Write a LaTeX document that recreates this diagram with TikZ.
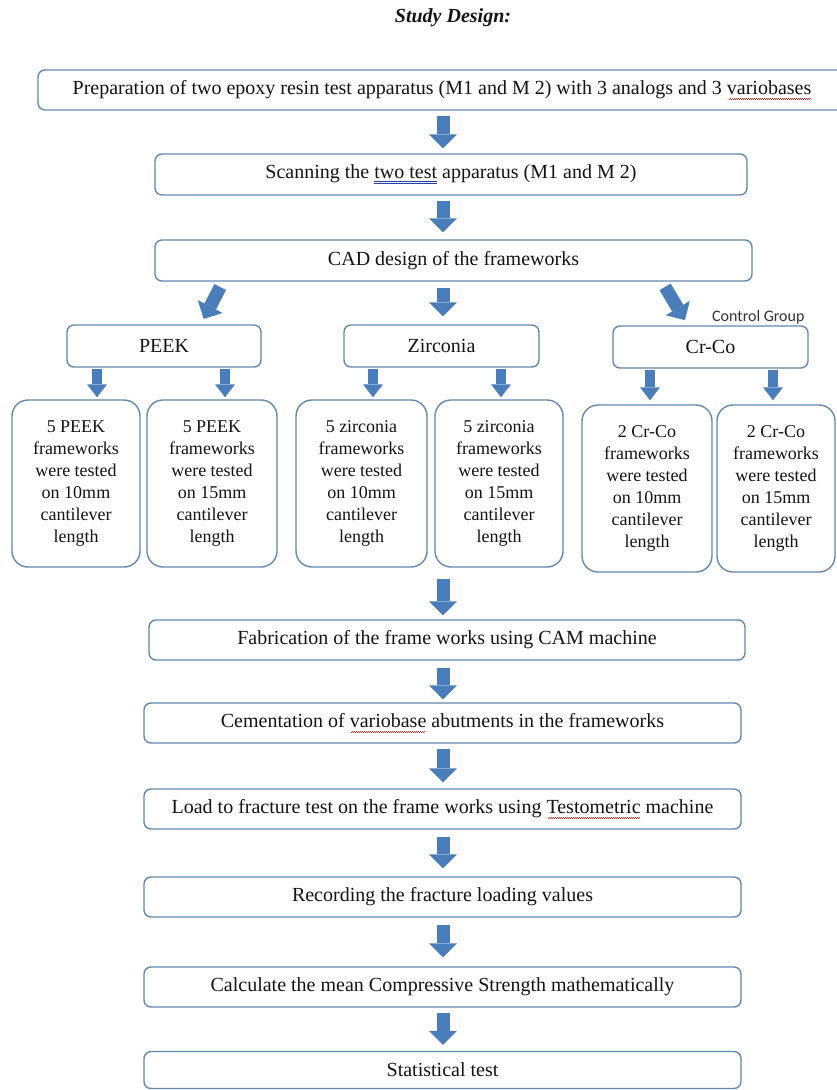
\documentclass[tikz,border=0pt]{standalone}
\usepackage{fontspec}
\setmainfont{Liberation Serif}
\newfontfamily\carl{Carlito}
\usetikzlibrary{arrows.meta}
\definecolor{boxc}{RGB}{100,136,176}
\definecolor{arrc}{RGB}{74,126,187}
\definecolor{wavec}{RGB}{220,30,30}
\definecolor{gramc}{RGB}{40,60,170}
\newsavebox\wbox
\newcommand\redwave[1]{\leavevmode\sbox\wbox{#1}\rlap{\usebox\wbox}{\color{wavec}\leaders\hbox{\rule[-5.2pt]{1pt}{0.9pt}\rule[-4pt]{1pt}{0.9pt}}\hskip\wd\wbox}}
\newcommand\bluuline[1]{\leavevmode\sbox\wbox{#1}\rlap{\usebox\wbox}{\color{gramc}\rlap{\rule[-3pt]{\wd\wbox}{0.6pt}}\rule[-5pt]{\wd\wbox}{0.6pt}}}
\begin{document}
\begin{tikzpicture}[x=1pt,y=-1pt,
  box/.style={draw=boxc, line width=1.4pt, rounded corners=7pt, fill=white, inner sep=0pt,
    text=black!92, font=\rmfamily\fontsize{20}{24}\selectfont},
  tall/.style={draw=boxc, line width=1.4pt, rounded corners=16pt, fill=white, inner sep=0pt,
    text=black!92, align=center, font=\rmfamily\fontsize{18}{22}\selectfont, minimum height=167pt},
  bigarr/.style={draw=arrc, line width=13pt, -{Triangle[width=28pt,length=14pt,line width=0pt]}},
  smallarr/.style={draw=arrc, line width=10pt, -{Triangle[width=20pt,length=13pt,line width=0pt]}}
]
\useasboundingbox[fill=white] (0,0) rectangle (836,1090);

\node[font=\rmfamily\bfseries\itshape\fontsize{20}{24}\selectfont, text=black!92] (title) at (453,18) {Study Design:};

\node[box, minimum width=808pt, minimum height=40pt] (b1) at (442,90)
  {Preparation of two epoxy resin test apparatus (M1 and M 2) with 3 analogs and 3 \redwave{variobases}};
\node[box, minimum width=592pt, minimum height=41pt] (b2) at (451,174.5)
  {Scanning the \bluuline{two test} apparatus (M1 and M 2)};
\node[box, minimum width=597pt, minimum height=41pt] (b3) at (453.5,260.5)
  {CAD design of the frameworks};

\node[box, minimum width=194pt, minimum height=42pt] (peek) at (164,346) {PEEK};
\node[box, minimum width=195pt, minimum height=42pt] (zirc) at (441.5,346) {Zirconia};
\node[box, minimum width=195pt, minimum height=42pt] (crco) at (710.5,347) {Cr-Co};
\node[font=\carl\fontsize{16}{18}\selectfont, text=black!80, anchor=base east] (cg) at (808,321) {Control Group};

\node[tall, minimum width=128pt] (t1) at (76,483.5)
  {5 PEEK\\frameworks\\were tested\\on 10mm\\cantilever\\length};
\node[tall, minimum width=130pt] (t2) at (212,483.5)
  {5 PEEK\\frameworks\\were tested\\on 15mm\\cantilever\\length};
\node[tall, minimum width=131pt] (t3) at (361.5,483.5)
  {5 zirconia\\frameworks\\were tested\\on 10mm\\cantilever\\length};
\node[tall, minimum width=128pt] (t4) at (499,483.5)
  {5 zirconia\\frameworks\\were tested\\on 15mm\\cantilever\\length};
\node[tall, minimum width=130pt] (t5) at (647,488.5)
  {2 Cr-Co\\frameworks\\were tested\\on 10mm\\cantilever\\length};
\node[tall, minimum width=118pt] (t6) at (776,488.5)
  {2 Cr-Co\\frameworks\\were tested\\on 15mm\\cantilever\\length};

\node[box, minimum width=596pt, minimum height=40pt] (fab) at (447,640)
  {Fabrication of the frame works using CAM machine};
\node[box, minimum width=597pt, minimum height=40pt] (cem) at (442.5,723)
  {Cementation of \redwave{variobase} abutments in the frameworks};
\node[box, minimum width=597pt, minimum height=40pt] (load) at (442.5,809)
  {Load to fracture test on the frame works using \redwave{Testometric} machine};
\node[box, minimum width=597pt, minimum height=40pt] (rec) at (442.5,897)
  {Recording the fracture loading values};
\node[box, minimum width=597pt, minimum height=40pt] (calc) at (442.5,987)
  {Calculate the mean Compressive Strength mathematically};
\node[box, minimum width=597pt, minimum height=37pt] (stat) at (442.5,1070)
  {Statistical test};

% x positions of the arrows
\coordinate (mx) at (443,0);
\coordinate (dl1) at (223,0);
\coordinate (dl2) at (201,0);
\coordinate (dr1) at (662,0);
\coordinate (dr2) at (688,0);
\coordinate (s1) at (97,0);
\coordinate (s2) at (225,0);
\coordinate (s3) at (373,0);
\coordinate (s4) at (501,0);
\coordinate (s5) at (650,0);
\coordinate (s6) at (773,0);

\draw[bigarr, shorten <=5pt, shorten >=5pt] (b1.south -| mx) -- (b2.north -| mx);
\draw[bigarr, shorten <=5pt, shorten >=7pt] (b2.south -| mx) -- (b3.north -| mx);
\draw[bigarr, shorten <=6pt, shorten >=8pt] (b3.south -| mx) -- (zirc.north -| mx);
\draw[bigarr, shorten <=6pt, shorten >=6pt] (b3.south -| dl1) -- (peek.north -| dl2);
\draw[bigarr, shorten <=6pt, shorten >=6pt] (b3.south -| dr1) -- (crco.north -| dr2);

\draw[smallarr, shorten <=1pt, shorten >=2pt] (peek.south -| s1) -- (t1.north -| s1);
\draw[smallarr, shorten <=1pt, shorten >=2pt] (peek.south -| s2) -- (t2.north -| s2);
\draw[smallarr, shorten <=1pt, shorten >=2pt] (zirc.south -| s3) -- (t3.north -| s3);
\draw[smallarr, shorten <=1pt, shorten >=2pt] (zirc.south -| s4) -- (t4.north -| s4);
\draw[smallarr, shorten <=1pt, shorten >=4pt] (crco.south -| s5) -- (t5.north -| s5);
\draw[smallarr, shorten <=1pt, shorten >=4pt] (crco.south -| s6) -- (t6.north -| s6);

\draw[bigarr, shorten <=11pt, shorten >=4pt] (t4.south -| mx) -- (fab.north -| mx);
\draw[bigarr, shorten <=7pt, shorten >=3pt] (fab.south -| mx) -- (cem.north -| mx);
\draw[bigarr, shorten <=5pt, shorten >=6pt] (cem.south -| mx) -- (load.north -| mx);
\draw[bigarr, shorten <=7pt, shorten >=8pt] (load.south -| mx) -- (rec.north -| mx);
\draw[bigarr, shorten <=7pt, shorten >=9pt] (rec.south -| mx) -- (calc.north -| mx);
\draw[bigarr, shorten <=5pt, shorten >=6pt] (calc.south -| mx) -- (stat.north -| mx);
\end{tikzpicture}
\end{document}
